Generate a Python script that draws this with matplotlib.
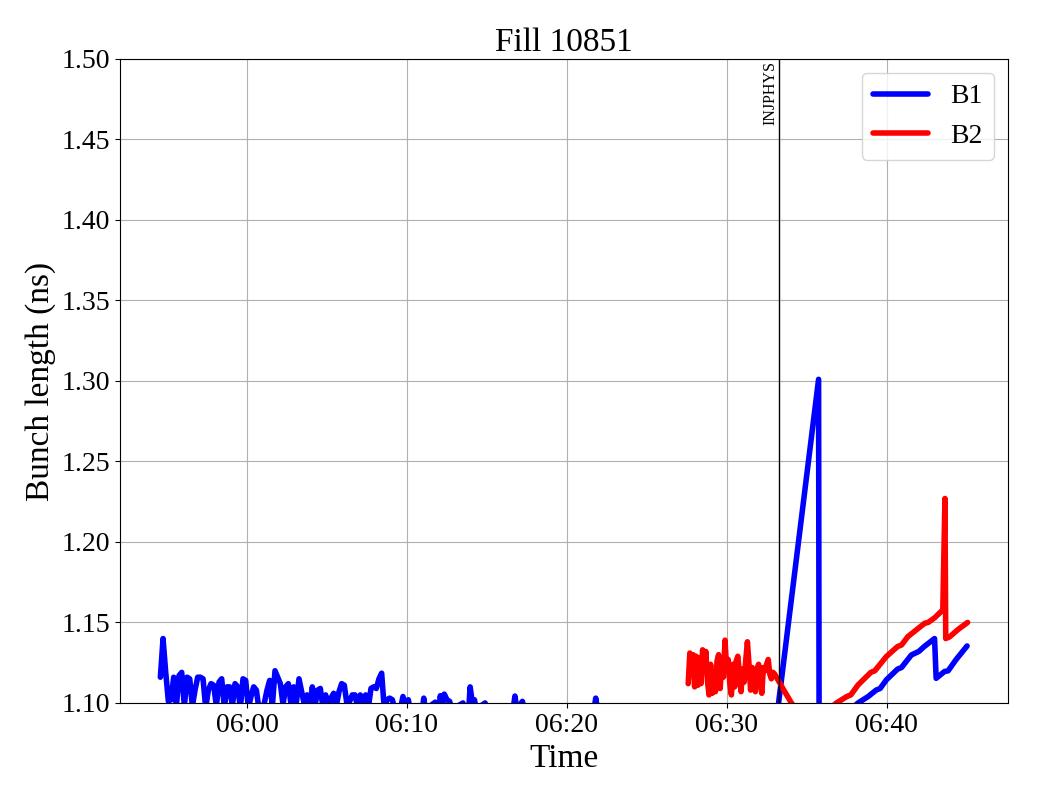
import pandas as pd
import matplotlib
matplotlib.use('Agg')
import matplotlib.pyplot as plt
import matplotlib.dates as mdates

plt.rcParams['font.family'] = ['Liberation Serif', 'DejaVu Serif']

day = '2025-07-01 '

# B1, dense logging at the start of the fill (10 s samples)
b1_dense_start = '05:54:35'
b1_dense = [1.116, 1.140, 1.119, 1.101, 1.102, 1.116, 1.098, 1.117, 1.119, 1.098,
            1.116, 1.115, 1.098, 1.108, 1.116, 1.116, 1.115, 1.097, 1.108, 1.112,
            1.111, 1.098, 1.113, 1.115, 1.097, 1.110, 1.110, 1.098, 1.112, 1.110,
            1.097, 1.115, 1.114, 1.097, 1.104, 1.110, 1.108, 1.096, 1.095, 1.100,
            1.108, 1.114, 1.098, 1.120, 1.116, 1.112, 1.099, 1.110, 1.112, 1.099,
            1.110, 1.100, 1.115, 1.107, 1.099, 1.105, 1.097, 1.110, 1.098, 1.108,
            1.109, 1.097, 1.105, 1.096, 1.103, 1.106, 1.098, 1.107, 1.112, 1.111,
            1.099, 1.101, 1.105, 1.105, 1.097, 1.105, 1.097, 1.105, 1.097, 1.109,
            1.110, 1.109, 1.115, 1.1185, 1.096, 1.102, 1.103, 1.102, 1.096, 1.096,
            1.096, 1.104, 1.096]

# B1, rest of the fill
b1_times = ['06:10:05', '06:10:12', '06:10:58', '06:11:03', '06:11:09', '06:11:46',
            '06:11:52', '06:12:00', '06:12:05', '06:12:13', '06:12:20', '06:12:30',
            '06:12:40', '06:12:48', '06:13:30', '06:13:38', '06:13:52', '06:13:57',
            '06:14:04', '06:14:13', '06:14:20', '06:14:53', '06:15:00', '06:16:38',
            '06:16:45', '06:16:52', '06:17:13', '06:17:20', '06:21:42', '06:21:48',
            '06:21:55', '06:32:59', '06:35:44', '06:35:46', '06:38:12', '06:38:40',
            '06:38:50', '06:39:20', '06:39:35', '06:39:58', '06:40:40', '06:40:55',
            '06:41:32', '06:42:00', '06:42:20', '06:42:59', '06:43:05', '06:43:36',
            '06:43:50', '06:44:20', '06:45:01']
b1_vals = [1.102, 1.096, 1.096, 1.103, 1.096, 1.1005,
           1.096, 1.097, 1.1045, 1.098, 1.1055, 1.102,
           1.101, 1.096, 1.100, 1.096, 1.097, 1.110,
           1.1015, 1.102, 1.096, 1.100, 1.096, 1.096,
           1.1043, 1.096, 1.101, 1.096, 1.096, 1.103,
           1.096, 1.080, 1.301, 1.078, 1.100, 1.103,
           1.104, 1.108, 1.109, 1.1143, 1.121, 1.122,
           1.1298, 1.132, 1.135, 1.140, 1.1153, 1.1195,
           1.120, 1.127, 1.1354]

# B2, dense logging before INJPHYS (6 s samples)
b2_dense_start = '06:27:35'
b2_dense = [1.112, 1.131, 1.118, 1.130, 1.110, 1.129, 1.111, 1.128, 1.112, 1.133,
            1.120, 1.132, 1.114, 1.105, 1.124, 1.106, 1.118, 1.107, 1.126, 1.130,
            1.109, 1.127, 1.116, 1.139, 1.121, 1.127, 1.112, 1.105, 1.124, 1.110,
            1.126, 1.129, 1.118, 1.107, 1.121, 1.113, 1.127, 1.138, 1.124, 1.108,
            1.122, 1.113, 1.107, 1.121, 1.124, 1.114, 1.106, 1.122, 1.120, 1.124,
            1.127, 1.118, 1.115, 1.119, 1.118]

b2_times = ['06:33:30', '06:34:02', '06:35:07', '06:36:51', '06:37:30', '06:37:45',
            '06:38:12', '06:39:00', '06:39:15', '06:39:58', '06:40:40', '06:40:55',
            '06:41:19', '06:42:22', '06:42:35', '06:43:00', '06:43:30', '06:43:38',
            '06:43:41', '06:43:55', '06:44:30', '06:45:03']
b2_vals = [1.109, 1.100, 1.085, 1.100, 1.104, 1.105,
           1.1112, 1.119, 1.120, 1.1288, 1.135, 1.136,
           1.1412, 1.1495, 1.150, 1.153, 1.1578, 1.227,
           1.140, 1.141, 1.146, 1.150]

injphys_time = '06:33:14'

# build the time axes
t1 = list(pd.date_range(day + b1_dense_start, periods=len(b1_dense), freq='10s'))
t1 += list(pd.to_datetime([day + t for t in b1_times]))
v1 = b1_dense + b1_vals

t2 = list(pd.date_range(day + b2_dense_start, periods=len(b2_dense), freq='6s'))
t2 += list(pd.to_datetime([day + t for t in b2_times]))
v2 = b2_dense + b2_vals

fig, ax = plt.subplots(figsize=(10.4, 8), dpi=100)
fig.subplots_adjust(left=0.1154, right=0.9692, bottom=0.1213, top=0.9263)

ax.plot(t1, v1, color='blue', lw=4, label='B1',
        solid_capstyle='round', solid_joinstyle='round')
ax.plot(t2, v2, color='red', lw=4, label='B2',
        solid_capstyle='round', solid_joinstyle='round')

inj = pd.to_datetime(day + injphys_time)
ax.axvline(inj, color='black', lw=1)
ax.text(inj, 1.499, 'INJPHYS', rotation=90, ha='right', va='top', fontsize=11.5)

ax.set_ylim(1.10, 1.50)
ax.set_yticks([1.10, 1.15, 1.20, 1.25, 1.30, 1.35, 1.40, 1.45, 1.50])
ax.yaxis.set_major_formatter(matplotlib.ticker.FormatStrFormatter('%.2f'))
ax.xaxis.set_major_formatter(mdates.DateFormatter('%H:%M'))
ax.xaxis.set_major_locator(mdates.MinuteLocator(byminute=[0, 10, 20, 30, 40, 50]))
ax.tick_params(labelsize=20)
ax.grid(True)

ax.set_xlabel('Time', fontsize=24)
ax.set_ylabel('Bunch length (ns)', fontsize=24)
ax.set_title('Fill 10851', fontsize=24)
ax.legend(loc='upper right', fontsize=20)

fig.savefig('out.png')
